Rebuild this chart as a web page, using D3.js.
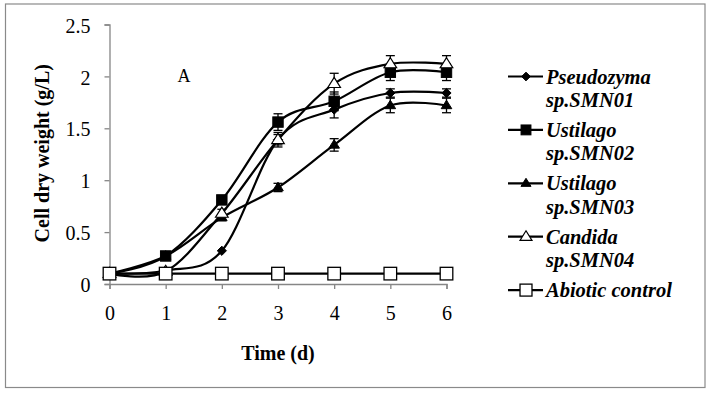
<!DOCTYPE html>
<html>
<head>
<meta charset="utf-8">
<script src="https://cdn.jsdelivr.net/npm/d3@7"></script>
<style>
  html, body { margin: 0; padding: 0; background: #fff; }
  svg { display: block; }
  svg text { font-family: "Times New Roman", "Liberation Serif", serif !important; fill: #000; }
</style>
</head>
<body>
<svg id="chart" width="714" height="393"></svg>
<script>
// ---- data ----
const days = [0, 1, 2, 3, 4, 5, 6];
const yTicks = [0, 0.5, 1, 1.5, 2, 2.5];
const seriesNames = ["Pseudozyma sp.SMN01", "Ustilago sp.SMN02", "Ustilago sp.SMN03", "Candida sp.SMN04", "Abiotic control"];
const legendLines = [["Pseudozyma", "sp.SMN01"], ["Ustilago", "sp.SMN02"], ["Ustilago", "sp.SMN03"], ["Candida", "sp.SMN04"], ["Abiotic control"]];
const pseudozyma = [0.10, 0.13, 0.32, 1.39, 1.68, 1.84, 1.84];
const ustilago02 = [0.10, 0.27, 0.81, 1.56, 1.76, 2.04, 2.04];
const ustilago03 = [0.10, 0.27, 0.64, 0.93, 1.34, 1.72, 1.72];
const candida    = [0.10, 0.12, 0.68, 1.39, 1.93, 2.12, 2.12];
const abiotic    = [0.10, 0.10, 0.10, 0.10, 0.10, 0.10, 0.10];
const errPseudozyma = [0.01, 0.01, 0.02, 0.05, 0.08, 0.04, 0.04];
const errUstilago02 = [0.01, 0.02, 0.03, 0.08, 0.09, 0.08, 0.08];
const errUstilago03 = [0.01, 0.02, 0.03, 0.04, 0.06, 0.07, 0.07];
const errCandida    = [0.01, 0.02, 0.04, 0.07, 0.10, 0.08, 0.08];
const errAbiotic    = [0, 0, 0, 0, 0, 0, 0];
const markers = ["diamond", "square", "triangle", "openTriangle", "openSquare"];
const panelLabel = "A";
const xTitle = "Time (d)";
const yTitle = "Cell dry weight (g/L)";

const allValues = [pseudozyma, ustilago02, ustilago03, candida, abiotic];
const allErrors = [errPseudozyma, errUstilago02, errUstilago03, errCandida, errAbiotic];

// ---- layout ----
const FONT = '"Times New Roman", "Liberation Serif", serif';
const svg = d3.select("#chart").style("font-family", FONT);
const axisColor = "#868686";
const x = d3.scaleLinear().domain([0, 6]).range([109.5, 446.5]);
const y = d3.scaleLinear().domain([0, 2.5]).range([284, 24.5]);

// outer border
svg.append("rect").attr("x", 5.5).attr("y", 4).attr("width", 699.5).attr("height", 383.5)
  .attr("fill", "none").attr("stroke", "#8a8a8a").attr("stroke-width", 1.2);

// axes
const yAxis = d3.axisLeft(y).tickValues(yTicks).tickSize(5).tickPadding(14)
  .tickFormat(d3.format("~g"));
const gy = svg.append("g").attr("transform", `translate(${x(0)},0)`).call(yAxis)
  .attr("font-family", null).attr("font-size", null);
gy.select(".domain").attr("stroke", axisColor).attr("stroke-width", 1.3);
gy.selectAll(".tick line").attr("stroke", axisColor).attr("stroke-width", 1.3);
gy.selectAll(".tick text").style("font-size", "20px").style("font-family", FONT).attr("dy", "0.38em");

const xAxis = d3.axisBottom(x).tickValues(days).tickSize(5).tickPadding(17).tickFormat(d3.format("d"));
const gx = svg.append("g").attr("transform", `translate(0,${y(0)})`).call(xAxis)
  .attr("font-family", null).attr("font-size", null);
gx.select(".domain").attr("stroke", axisColor).attr("stroke-width", 1.3);
gx.selectAll(".tick line").attr("stroke", axisColor).attr("stroke-width", 1.3);
gx.selectAll(".tick text").style("font-size", "20px").style("font-family", FONT);

// axis titles
svg.append("text").attr("x", (x(0) + x(6)) / 2).attr("y", 360).attr("text-anchor", "middle")
  .style("font-size", "20px").style("font-weight", "bold").style("font-family", FONT).text(xTitle);
svg.append("text").attr("transform", `translate(48.5,${(y(0) + y(2.5)) / 2 - 1}) rotate(-90)`)
  .attr("text-anchor", "middle").style("font-size", "20px").style("font-weight", "bold").style("font-family", FONT).text(yTitle);

// panel label
svg.append("text").attr("x", 184).attr("y", 81.5).attr("text-anchor", "middle")
  .style("font-size", "18px").style("font-family", FONT).text(panelLabel);

// marker drawing
function drawMarker(g, type, cx, cy, scale) {
  const s = scale || 1;
  if (type === "diamond") {
    const r = 4.6 * s;
    g.append("path").attr("d", `M${cx},${cy - r}L${cx + r},${cy}L${cx},${cy + r}L${cx - r},${cy}Z`)
      .attr("fill", "#000").attr("stroke", "#000").attr("stroke-width", 1);
  } else if (type === "square" || type === "openSquare") {
    const h = (type === "square" ? 5.2 : 6.3) * s;
    g.append("rect").attr("x", cx - h).attr("y", cy - h).attr("width", 2 * h).attr("height", 2 * h)
      .attr("fill", type === "square" ? "#000" : "#fff").attr("stroke", "#000").attr("stroke-width", type === "square" ? 1 : 1.3);
  } else {
    const w = (type === "triangle" ? 5.3 : 6.3) * s;
    const ht = w * 1.6;
    g.append("path").attr("d", `M${cx},${cy - ht * 0.62}L${cx + w},${cy + ht * 0.38}L${cx - w},${cy + ht * 0.38}Z`)
      .attr("fill", type === "triangle" ? "#000" : "#fff").attr("stroke", "#000").attr("stroke-width", type === "triangle" ? 1 : 1.2);
  }
}

const line = d3.line().x((d, i) => x(days[i])).y(d => y(d)).curve(d3.curveCatmullRom.alpha(0));
const plot = svg.append("g");

allValues.forEach((vals, si) => {
  const g = plot.append("g");
  // error bars
  vals.forEach((v, i) => {
    const e = allErrors[si][i];
    if (e > 0.025) {
      const cx = x(days[i]);
      g.append("line").attr("x1", cx).attr("x2", cx).attr("y1", y(v - e)).attr("y2", y(v + e))
        .attr("stroke", "#000").attr("stroke-width", 1.3);
      [v - e, v + e].forEach(ev => {
        g.append("line").attr("x1", cx - 4.5).attr("x2", cx + 4.5).attr("y1", y(ev)).attr("y2", y(ev))
          .attr("stroke", "#000").attr("stroke-width", 1.3);
      });
    }
  });
  g.append("path").attr("d", line(vals)).attr("fill", "none").attr("stroke", "#000").attr("stroke-width", 2.2);
  vals.forEach((v, i) => drawMarker(g, markers[si], x(days[i]), y(v)));
});

// legend
const legendBase = 83.5, legendStep = 53.4, lineGap = 23.3;
legendLines.forEach((lines, si) => {
  const by = legendBase + si * legendStep;
  const my = by - 7;
  const g = svg.append("g");
  g.append("line").attr("x1", 508).attr("x2", 543).attr("y1", my).attr("y2", my)
    .attr("stroke", "#000").attr("stroke-width", 2.2);
  drawMarker(g, markers[si], 526, my, 0.95);
  lines.forEach((t, li) => {
    g.append("text").attr("x", 546).attr("y", by + li * lineGap)
      .style("font-size", "20.5px").style("font-weight", "bold").style("font-style", "italic")
      .style("font-family", FONT).text(t);
  });
});
</script>
</body>
</html>
